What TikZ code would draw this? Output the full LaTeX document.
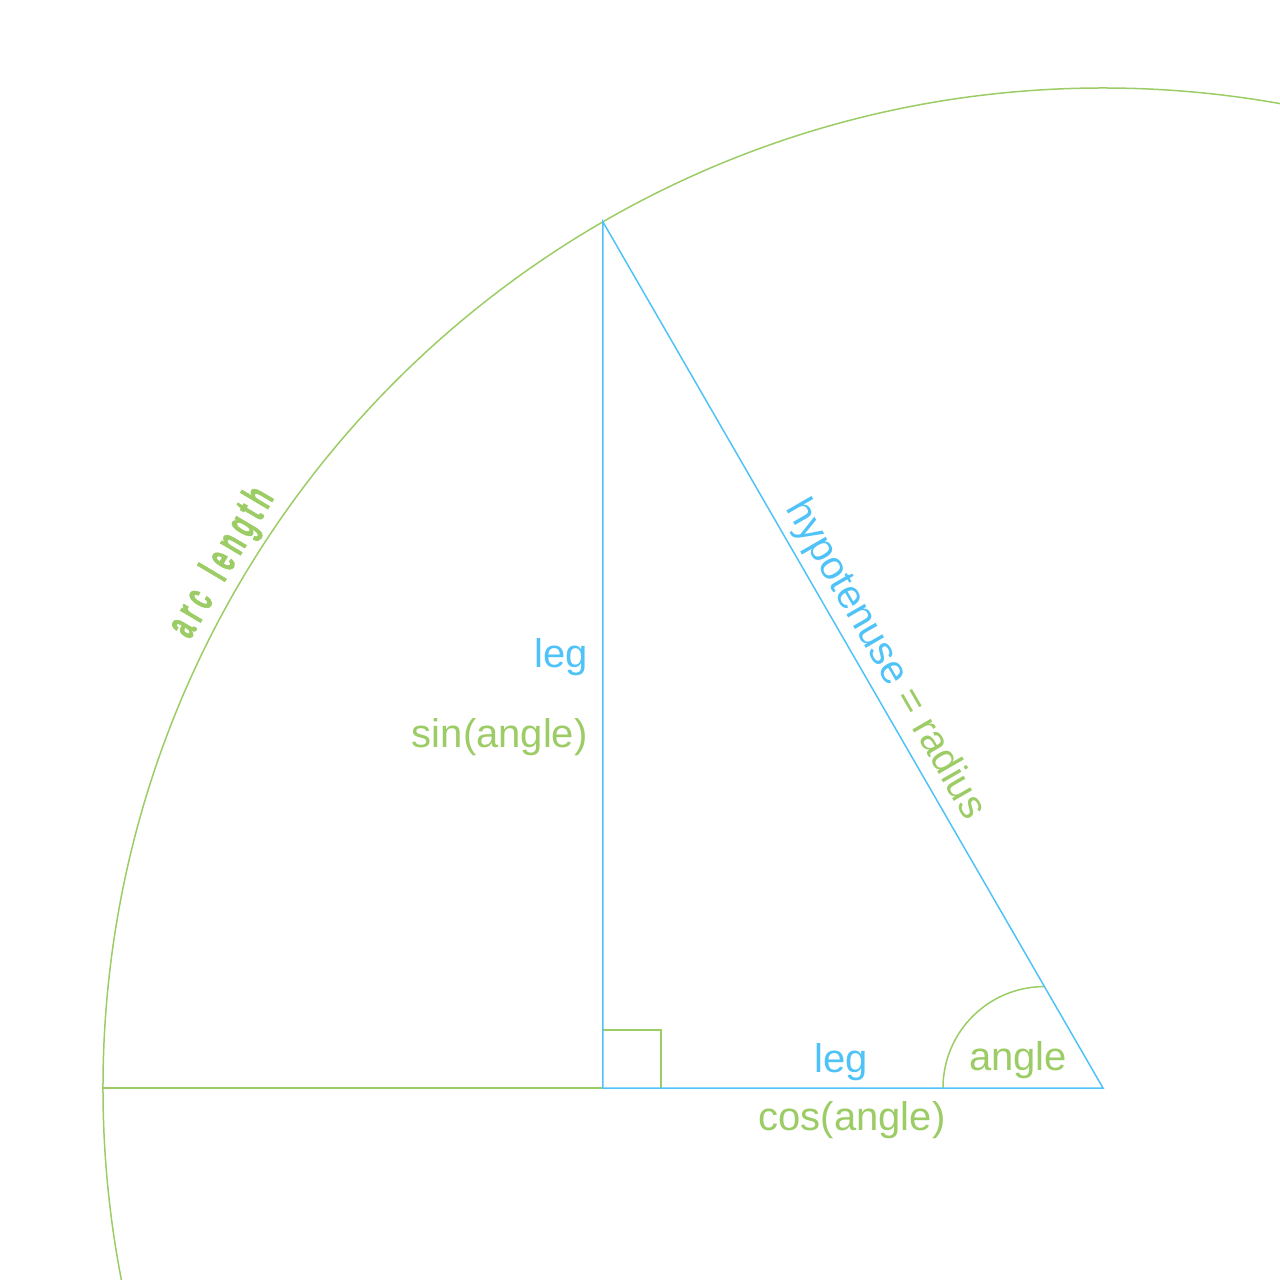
\documentclass[tikz,border=0pt]{standalone}
\usepackage{fontspec}
\setmainfont{Liberation Sans}
\usepackage{xcolor}
\definecolor{legcolor}{RGB}{79,195,247}
\definecolor{arccolor}{RGB}{156,204,101}
\usetikzlibrary{calc}
\tikzstyle{arcline}=[draw=arccolor, line width=0.75pt]
\tikzstyle{legline}=[draw=legcolor, line width=0.75pt]
\tikzstyle{label text}=[font=\fontsize{20}{24}\selectfont, inner sep=0pt, anchor=base]
\tikzstyle{arc text}=[font=\fontsize{22}{26}\selectfont\bfseries, text=arccolor, inner sep=2pt]

\begin{document}
\begin{tikzpicture}[x=0.5pt,y=0.5pt]
\def\radius{1000}
\def\angleradius{101.4}
\def\boxside{58}
    \useasboundingbox (-1103,-192) rectangle (177,1088);
    \clip (-1103,-192) rectangle (177,1088);

    \coordinate (O) at (0,0);
    \coordinate (L) at (-\radius,0);
    \coordinate (F) at (-500,0);
    \coordinate (P) at (120:\radius);

    % circle and left radius
    \draw[arcline] (O) circle (\radius);
    \draw[arcline] (L) -- (F);
    \draw[arcline] (F) ++(0,\boxside) -- ++(\boxside,0) -- ++(0,-\boxside);
    \draw[arcline] (-160,0) arc[start angle=180, end angle=90, radius=\angleradius];

    % triangle
    \draw[legline] (F) -- (O) -- (P) -- cycle;

    \node[label text, text=legcolor, anchor=base east] (legV) at (-515,420) {leg};
    \node[label text, text=arccolor, anchor=base east] (sinV) at (-515,340) {sin(angle)};
    \node[label text, text=legcolor] (legH) at (-262,16) {leg};
    \node[label text, text=arccolor] (cosH) at (-251,-42) {cos(angle)};
    \node[label text, text=arccolor] (angleL) at (-85,18) {angle};

    \path (P) -- node[sloped, above, pos=0.52, font=\fontsize{20}{24}\selectfont, inner sep=3pt] (hyp)
        {\textcolor{legcolor}{hypotenuse} \textcolor{arccolor}{= radius}} (O);

    \node[arc text, rotate=59.3, anchor=south] (arcL) at (149.2:\radius)
        {\scalebox{0.55}[1]{\addfontfeature{LetterSpace=22,FakeBold=2}arc\hspace{0.3em} length}};
\end{tikzpicture}
\end{document}
